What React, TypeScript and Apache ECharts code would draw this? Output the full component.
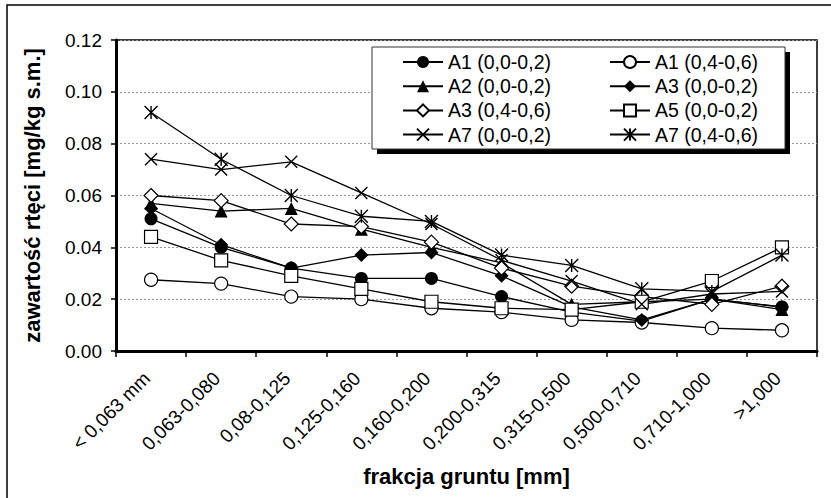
import React, { useEffect, useRef } from 'react';
import * as echarts from 'echarts';

const categories = [
  '< 0,063 mm', '0,063-0,080', '0,08-0,125', '0,125-0,160', '0,160-0,200',
  '0,200-0,315', '0,315-0,500', '0,500-0,710', '0,710-1,000', '>1,000',
];

const yTicks = { min: 0, max: 0.12, interval: 0.02 };

const nameA1a = 'A1 (0,0-0,2)';
const nameA1b = 'A1 (0,4-0,6)';
const nameA2a = 'A2 (0,0-0,2)';
const nameA3a = 'A3 (0,0-0,2)';
const nameA3b = 'A3 (0,4-0,6)';
const nameA5a = 'A5 (0,0-0,2)';
const nameA7a = 'A7 (0,0-0,2)';
const nameA7b = 'A7 (0,4-0,6)';

const valA1a = [0.051, 0.040, 0.032, 0.028, 0.028, 0.021, 0.015, 0.0115, 0.020, 0.017];
const valA1b = [0.0275, 0.026, 0.021, 0.020, 0.0165, 0.015, 0.012, 0.011, 0.0088, 0.008];
const valA2a = [0.057, 0.054, 0.055, 0.047, 0.040, 0.034, 0.018, 0.019, 0.020, 0.016];
const valA3a = [0.055, 0.041, 0.032, 0.037, 0.038, 0.029, 0.017, 0.012, 0.020, 0.017];
const valA3b = [0.060, 0.058, 0.049, 0.048, 0.042, 0.032, 0.025, 0.021, 0.018, 0.025];
const valA5a = [0.044, 0.035, 0.029, 0.024, 0.019, 0.0165, 0.016, 0.019, 0.027, 0.040];
const valA7a = [0.074, 0.070, 0.073, 0.061, 0.049, 0.035, 0.027, 0.018, 0.022, 0.023];
const valA7b = [0.092, 0.074, 0.060, 0.052, 0.050, 0.037, 0.033, 0.024, 0.023, 0.037];

const FONT = "'Liberation Sans', Arial, sans-serif";
const X_SYMBOL = 'path://M0,0L10,10M10,0L0,10';
const STAR_SYMBOL = 'path://M0,0L10,10M10,0L0,10M5,0L5,10';

type Mk = { symbol: string; size: number; fill: string; border: number };

const filled = (symbol: string, size: number): Mk => ({ symbol, size, fill: '#000', border: 0 });
const open = (symbol: string, size: number): Mk => ({ symbol, size, fill: '#fff', border: 1.2 });
const stroke = (symbol: string, size: number): Mk => ({ symbol, size, fill: 'transparent', border: 1.4 });

function makeSeries(name: string, data: number[], mk: Mk) {
  return {
    name,
    type: 'line',
    data,
    symbol: mk.symbol,
    symbolSize: mk.size,
    showAllSymbol: true,
    lineStyle: { color: '#000', width: 1.3 },
    itemStyle: { color: mk.fill, borderColor: '#000', borderWidth: mk.border },
    emphasis: { disabled: true },
  };
}

export default function App() {
  const ref = useRef<HTMLDivElement>(null);
  useEffect(() => {
    document.body.style.margin = '0';
    if (!ref.current) return;
    const chart = echarts.init(ref.current, null, { renderer: 'svg' });
    const legendText = { fontFamily: FONT, fontSize: 19.5, color: '#000' };
    chart.setOption({
      animation: false,
      backgroundColor: '#fff',
      textStyle: { fontFamily: FONT },
      grid: {
        left: 116, top: 40, right: 14, bottom: 147,
        outerBoundsMode: 'none',
        containLabel: false,
        show: true, borderColor: '#000', borderWidth: 1.5, backgroundColor: 'transparent',
      },
      graphic: [
        {
          type: 'rect', z: 0, silent: true,
          shape: { x: 7, y: 5, width: 840, height: 510 },
          style: { fill: 'none', stroke: '#000', lineWidth: 1.5 },
        },
        {
          type: 'rect', z: 3, silent: true,
          shape: { x: 377, y: 52, width: 413, height: 102 },
          style: { fill: '#000' },
        },
        {
          type: 'rect', z: 3, silent: true,
          shape: { x: 372, y: 47, width: 413, height: 102 },
          style: { fill: '#fff', stroke: '#333', lineWidth: 1 },
        },
      ],
      legend: [
        {
          orient: 'vertical', left: 397, top: 47, z: 5,
          itemWidth: 40, itemHeight: 15, itemGap: 4.2,
          textStyle: legendText,
          data: [nameA1a, nameA2a, nameA3b, nameA7a],
          selectedMode: false,
        },
        {
          orient: 'vertical', left: 604, top: 47, z: 5,
          itemWidth: 40, itemHeight: 15, itemGap: 4.2,
          textStyle: legendText,
          data: [nameA1b, nameA3a, nameA5a, nameA7b],
          selectedMode: false,
        },
      ],
      xAxis: {
        type: 'category',
        data: categories,
        boundaryGap: true,
        name: 'frakcja gruntu [mm]',
        nameLocation: 'middle',
        nameGap: 114,
        nameTextStyle: { fontFamily: FONT, fontSize: 22, fontWeight: 'bold', color: '#000' },
        axisLine: { lineStyle: { color: '#000', width: 3 } },
        axisTick: { show: true, alignWithLabel: false, length: 6, lineStyle: { color: '#000', width: 1.5 } },
        axisLabel: {
          rotate: 45, interval: 0, margin: 20, padding: [0, 6, 0, 0],
          fontFamily: FONT, fontSize: 19, color: '#000',
        },
        splitLine: { show: false },
      },
      yAxis: {
        type: 'value',
        min: yTicks.min, max: yTicks.max, interval: yTicks.interval,
        name: 'zawartość rtęci [mg/kg s.m.]',
        nameLocation: 'middle',
        nameGap: 73,
        nameTextStyle: { fontFamily: FONT, fontSize: 22, fontWeight: 'bold', color: '#000' },
        axisLine: { show: true, lineStyle: { color: '#000', width: 3 } },
        axisTick: { show: true, length: 5, lineStyle: { color: '#000', width: 1.5 } },
        axisLabel: {
          margin: 14, fontFamily: FONT, fontSize: 19, color: '#000',
          formatter: (v: number) => v.toFixed(2),
        },
        splitLine: { show: true, lineStyle: { color: '#999', width: 1, type: [2, 2] } },
      },
      series: [
        makeSeries(nameA1a, valA1a, filled('circle', 13)),
        makeSeries(nameA1b, valA1b, open('circle', 13)),
        makeSeries(nameA2a, valA2a, filled('triangle', 13)),
        makeSeries(nameA3a, valA3a, filled('diamond', 14)),
        makeSeries(nameA3b, valA3b, open('diamond', 14)),
        makeSeries(nameA5a, valA5a, open('rect', 13)),
        makeSeries(nameA7a, valA7a, stroke(X_SYMBOL, 12)),
        makeSeries(nameA7b, valA7b, stroke(STAR_SYMBOL, 13)),
      ],
    });
    return () => chart.dispose();
  }, []);
  return <div ref={ref} style={{ width: 831, height: 498 }} />;
}
